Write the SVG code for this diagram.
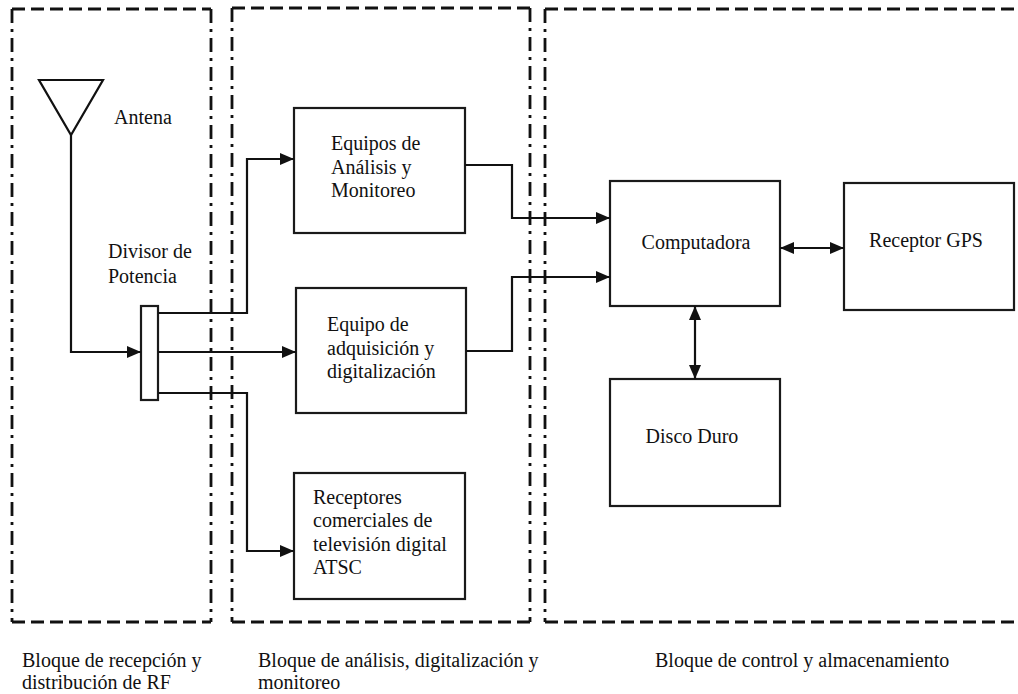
<svg xmlns="http://www.w3.org/2000/svg" width="1018" height="694" viewBox="0 0 1018 694">
<style>
.frame-h{stroke:#111;stroke-width:2.8;fill:none;stroke-dasharray:13 6}
.frame-v{stroke:#111;stroke-width:2.8;fill:none;stroke-dasharray:14 6 3 6}
.box{fill:#fff;stroke:#1a1a1a;stroke-width:2.2}
text{font-family:'Liberation Serif','Times New Roman',serif;font-size:20px;fill:#111}
.c{fill:none;stroke:#111;stroke-width:2.2}
</style>
<defs>
<marker id="ah" viewBox="0 0 14 12" refX="14" refY="6" markerWidth="14" markerHeight="12" markerUnits="userSpaceOnUse" orient="auto-start-reverse">
<path d="M0,0 L14,6 L0,12 Z" fill="#111"/>
</marker>
</defs>
<rect width="1018" height="694" fill="#fff"/>
<g id="frames">
<line class="frame-h" x1="12" y1="9" x2="211" y2="9"/>
<line class="frame-h" x1="12" y1="622" x2="211" y2="622"/>
<line class="frame-v" x1="12" y1="9" x2="12" y2="622"/>
<line class="frame-v" x1="211" y1="9" x2="211" y2="622"/>
<line class="frame-h" x1="232" y1="8" x2="530" y2="8"/>
<line class="frame-h" x1="232" y1="622" x2="530" y2="622"/>
<line class="frame-v" x1="232" y1="8" x2="232" y2="622"/>
<line class="frame-v" x1="530" y1="8" x2="530" y2="622"/>
<line class="frame-h" x1="545" y1="9" x2="1018" y2="9"/>
<line class="frame-h" x1="545" y1="622" x2="1018" y2="622"/>
<line class="frame-v" x1="545" y1="9" x2="545" y2="622"/>
</g>
<g id="antena">
<path d="M39,80 L103,80 L71,135 Z" fill="none" stroke="#111" stroke-width="2.2"/>
<text x="114" y="124">Antena</text>
</g>
<g id="divisor">
<rect class="box" x="141" y="306" width="17" height="94"/>
<text x="108" y="258">Divisor de</text>
<text x="108" y="283">Potencia</text>
</g>
<g id="equipos-analisis">
<rect class="box" x="294" y="108" width="171" height="125"/>
<text x="331" y="150">Equipos de</text>
<text x="331" y="174">Análisis y</text>
<text x="331" y="197">Monitoreo</text>
</g>
<g id="equipo-adquisicion">
<rect class="box" x="296" y="288" width="170" height="125"/>
<text x="327" y="331">Equipo de</text>
<text x="327" y="355">adquisición y</text>
<text x="327" y="378">digitalización</text>
</g>
<g id="receptores">
<rect class="box" x="294" y="473" width="171" height="126"/>
<text x="313" y="504">Receptores</text>
<text x="313" y="527">comerciales de</text>
<text x="313" y="551">televisión digital</text>
<text x="313" y="574">ATSC</text>
</g>
<g id="computadora">
<rect class="box" x="610" y="181" width="170" height="125"/>
<text x="696" y="249" text-anchor="middle">Computadora</text>
</g>
<g id="gps">
<rect class="box" x="844" y="183" width="170" height="127"/>
<text x="926" y="247" text-anchor="middle">Receptor GPS</text>
</g>
<g id="disco">
<rect class="box" x="610" y="379" width="170" height="127"/>
<text x="692" y="443" text-anchor="middle">Disco Duro</text>
</g>
<g id="connectors">
<polyline class="c" points="71,135 71,352 141,352" marker-end="url(#ah)"/>
<polyline class="c" points="158,313 247,313 247,159 294,159" marker-end="url(#ah)"/>
<polyline class="c" points="158,352 296,352" marker-end="url(#ah)"/>
<polyline class="c" points="158,393 247,393 247,551 294,551" marker-end="url(#ah)"/>
<polyline class="c" points="465,165 512,165 512,218 610,218" marker-end="url(#ah)"/>
<polyline class="c" points="466,351 512,351 512,277 610,277" marker-end="url(#ah)"/>
<line class="c" x1="780" y1="248" x2="844" y2="248" marker-start="url(#ah)" marker-end="url(#ah)"/>
<line class="c" x1="695" y1="306" x2="695" y2="379" marker-start="url(#ah)" marker-end="url(#ah)"/>
</g>
<g id="labels">
<text x="22" y="667">Bloque de recepción y</text>
<text x="22" y="689">distribución de RF</text>
<text x="258" y="667">Bloque de análisis, digitalización y</text>
<text x="258" y="689">monitoreo</text>
<text x="655" y="667">Bloque de control y almacenamiento</text>
</g>
</svg>
